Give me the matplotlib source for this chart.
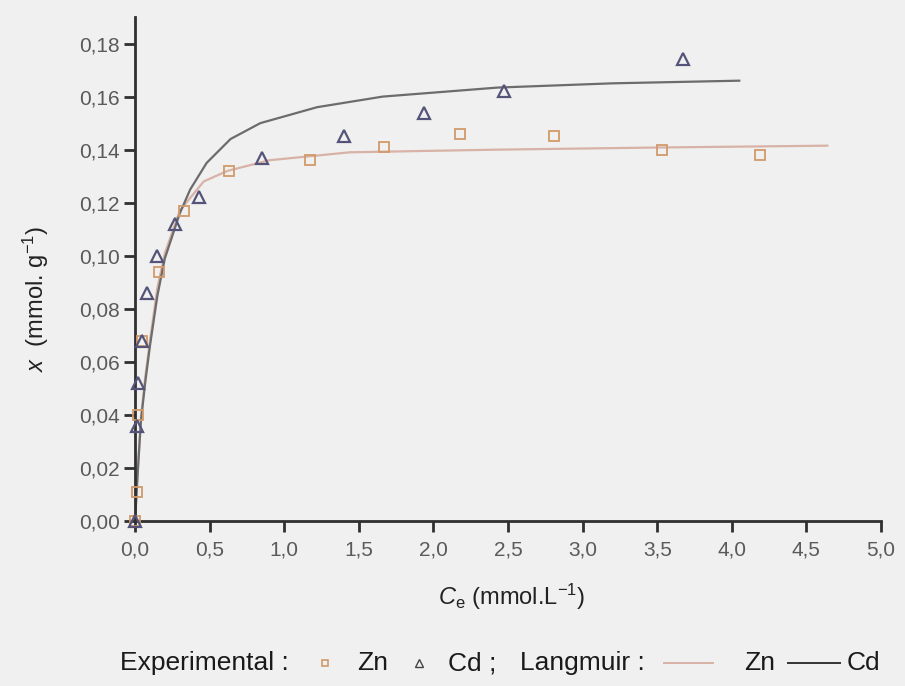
import numpy as np
import matplotlib.pyplot as plt
from matplotlib.lines import Line2D

plt.rcParams['font.family'] = ['Liberation Sans', 'DejaVu Sans']
plt.rcParams['mathtext.fontset'] = 'custom'
plt.rcParams['mathtext.rm'] = 'Liberation Sans'
plt.rcParams['mathtext.it'] = 'Liberation Sans:italic'

# experimental points
ce_zn = [0, 0.01, 0.02, 0.05, 0.16, 0.33, 0.63, 1.17, 1.67, 2.18, 2.81, 3.53, 4.19]
x_zn = [0, 0.011, 0.040, 0.068, 0.094, 0.117, 0.132, 0.136, 0.141, 0.146, 0.145, 0.140, 0.138]

ce_cd = [0, 0.01, 0.02, 0.05, 0.08, 0.15, 0.27, 0.43, 0.85, 1.40, 1.94, 2.47, 3.67]
x_cd = [0, 0.036, 0.052, 0.068, 0.086, 0.100, 0.112, 0.122, 0.137, 0.145, 0.154, 0.162, 0.174]

# Langmuir fits
fit_ce_zn = [0, 0.02, 0.04, 0.07, 0.10, 0.15, 0.20, 0.30, 0.46, 0.62, 0.90, 1.44, 2.43, 3.50, 4.64]
fit_x_zn = [0, 0.021, 0.039, 0.055, 0.068, 0.088, 0.101, 0.117, 0.128, 0.132, 0.136, 0.139, 0.140, 0.1408, 0.1415]

fit_ce_cd = [0, 0.02, 0.04, 0.07, 0.10, 0.15, 0.20, 0.30, 0.37, 0.48, 0.64, 0.84, 1.22, 1.66, 2.43, 3.20, 4.05]
fit_x_cd = [0, 0.020, 0.038, 0.053, 0.066, 0.085, 0.099, 0.116, 0.125, 0.135, 0.144, 0.150, 0.156, 0.160, 0.1634, 0.165, 0.166]

xticks = np.arange(0, 5.01, 0.5)
yticks = np.arange(0, 0.181, 0.02)

bg = '#f0f0f0'
zn_pt = '#d09a6a'
cd_pt = '#54547a'
zn_line = '#d8b2a6'
cd_line = '#6c6c6c'

fig = plt.figure(figsize=(9.05, 6.86), dpi=100, facecolor=bg)
ax = fig.add_axes([0.1492, 0.2405, 0.8243, 0.7347], facecolor=bg)

ax.plot(fit_ce_zn, fit_x_zn, color=zn_line, lw=1.6, zorder=2)
ax.plot(fit_ce_cd, fit_x_cd, color=cd_line, lw=1.6, zorder=2)
ax.plot(ce_zn, x_zn, ls='none', marker='s', ms=7, mfc='none', mec=zn_pt, mew=1.3, zorder=3, clip_on=False)
ax.plot(ce_cd, x_cd, ls='none', marker='^', ms=8.5, mfc='none', mec=cd_pt, mew=1.6, zorder=3, clip_on=False)

ax.set_xlim(0, 5.0)
ax.set_ylim(0, 0.190)
ax.set_xticks(xticks)
ax.set_yticks(yticks)
ax.set_xticklabels([f'{v:.1f}'.replace('.', ',') for v in xticks])
ax.set_yticklabels([f'{v:.2f}'.replace('.', ',') for v in yticks])

for s in ['top', 'right']:
    ax.spines[s].set_visible(False)
for s in ['left', 'bottom']:
    ax.spines[s].set_color('#303030')
    ax.spines[s].set_linewidth(2)
ax.tick_params(direction='out', length=8, width=2, color='#303030',
               labelsize=15, labelcolor='#5a5a5a')
ax.tick_params(axis='x', pad=6)
ax.tick_params(axis='y', pad=3)

ax.set_xlabel(r'$C_{\mathrm{e}}$ (mmol.L$^{\mathrm{-1}}$)', fontsize=17, color='#222222')
ax.set_ylabel(r'$x$  (mmol. g$^{\mathrm{-1}}$)', fontsize=17, color='#222222')
ax.xaxis.set_label_coords(0.505, -0.12)
ax.yaxis.set_label_coords(-0.112, 0.44)

# legend row along the bottom
ly = 1 - 663 / 686
W, H = 905, 686
txt = dict(fontsize=19, color='#1a1a1a', va='center', ha='left')
fig.text(120 / W, ly, 'Experimental :', **txt)
fig.add_artist(Line2D([325 / W], [ly], marker='s', ms=5, mfc='none', mec=zn_pt, mew=1.2, ls='none'))
fig.text(357 / W, ly, 'Zn', **txt)
fig.add_artist(Line2D([419 / W], [ly], marker='^', ms=6, mfc='none', mec='#444444', mew=1.0, ls='none'))
fig.text(448 / W, ly, 'Cd ;', **txt)
fig.text(520 / W, ly, 'Langmuir :', **txt)
fig.add_artist(Line2D([664 / W, 713 / W], [ly, ly], color=zn_line, lw=1.4))
fig.text(744 / W, ly, 'Zn', **txt)
fig.add_artist(Line2D([788 / W, 840 / W], [ly, ly], color='#333333', lw=1.4))
fig.text(847 / W, ly, 'Cd', **txt)

fig.savefig('out.png', dpi=100, facecolor=bg)
